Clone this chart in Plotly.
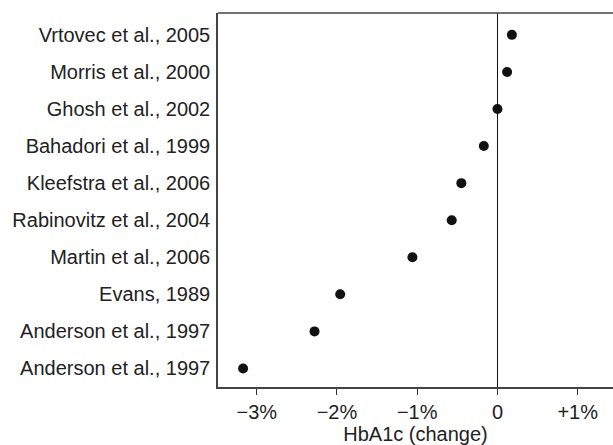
import plotly.graph_objects as go

studies = [
    "Anderson et al., 1997",
    "Anderson et al., 1997",
    "Evans, 1989",
    "Martin et al., 2006",
    "Rabinovitz et al., 2004",
    "Kleefstra et al., 2006",
    "Bahadori et al., 1999",
    "Ghosh et al., 2002",
    "Morris et al., 2000",
    "Vrtovec et al., 2005",
]
hba1c_change = [-3.17, -2.28, -1.96, -1.06, -0.57, -0.45, -0.17, 0.0, 0.12, 0.18]
row_index = list(range(len(studies)))

x_tick_vals = [-3, -2, -1, 0, 1]
x_tick_text = ["\u22123%", "\u22122%", "\u22121%", "0", "+1%"]

font_family = "Liberation Sans, Arial, Helvetica, sans-serif"
text_color = "#222222"
axis_color = "#444444"

fig = go.Figure()
fig.add_trace(go.Scatter(
    x=hba1c_change,
    y=row_index,
    mode="markers",
    marker=dict(color="#111111", size=10, line=dict(width=0)),
    showlegend=False,
))

# hide any border at the right edge of the plot area (reference has none)
fig.add_shape(type="rect", xref="paper", yref="paper", x0=0.996, x1=1.02, y0=0.005, y1=0.995,
              fillcolor="white", line=dict(width=0), layer="above")
# top frame line (plot-area border, paper coordinates)
fig.add_shape(type="line", xref="paper", yref="paper", x0=0, x1=1, y0=1, y1=1,
              line=dict(color=axis_color, width=1.5), layer="above")

fig.update_layout(
    width=613,
    height=445,
    margin=dict(l=218, r=0, t=13, b=58),
    paper_bgcolor="white",
    plot_bgcolor="white",
    font=dict(family=font_family, size=20, color=text_color),
    xaxis=dict(
        range=[-3.483, 1.44],
        tickvals=x_tick_vals,
        ticktext=x_tick_text,
        ticks="outside",
        ticklen=6,
        tickwidth=1.3,
        tickcolor="#333333",
        showline=True,
        linecolor=axis_color,
        linewidth=1.5,
        mirror=False,
        showgrid=False,
        zeroline=True,
        zerolinecolor="#111111",
        zerolinewidth=1.3,
        automargin=False,
        tickfont=dict(size=20, color=text_color),
        title=dict(text="HbA1c (change)", font=dict(size=20, color=text_color), standoff=2),
        fixedrange=True,
    ),
    yaxis=dict(
        range=[-0.5, 9.59],
        tickvals=row_index,
        ticktext=studies,
        ticks="",
        showline=True,
        linecolor=axis_color,
        linewidth=1.5,
        mirror=False,
        showgrid=False,
        zeroline=False,
        automargin=False,
        ticklabelstandoff=2,
        tickfont=dict(size=20, color=text_color),
        fixedrange=True,
    ),
)

fig.write_html(
    "out.html",
    config={"displayModeBar": False},
    post_script=(
        "document.body.style.margin='0';document.body.style.padding='0';"
        "document.body.style.overflow='hidden';"
        "document.documentElement.style.overflow='hidden';"
    ),
)
